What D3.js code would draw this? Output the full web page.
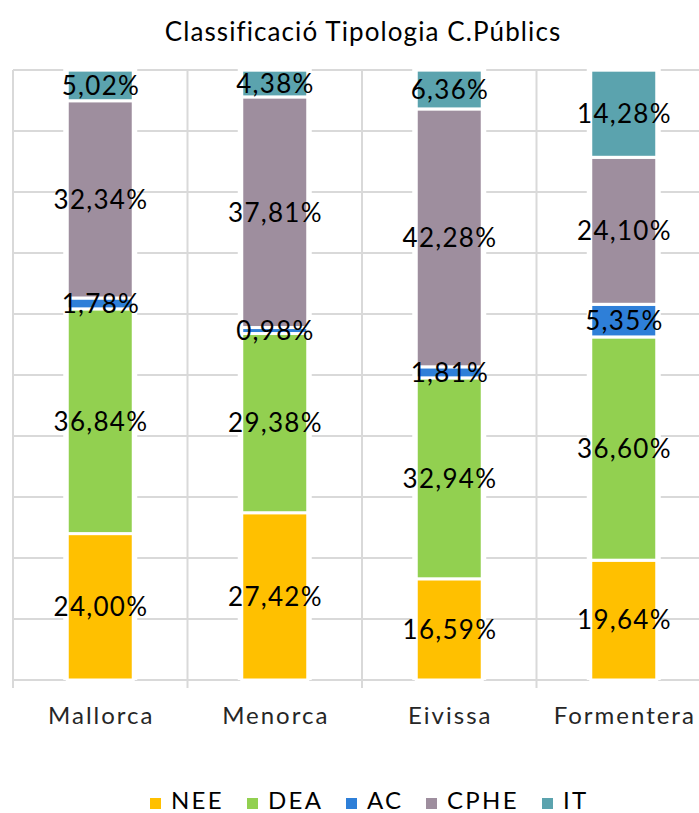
<!DOCTYPE html>
<html><head><meta charset="utf-8">
<script src="https://cdn.jsdelivr.net/npm/d3@7"></script>
<style>
html,body{margin:0;padding:0;background:#fff;}
text{font-family:"Lato","Open Sans",sans-serif;}
</style></head>
<body><div id="chart"></div>
<script>
const categories = ["Mallorca","Menorca","Eivissa","Formentera"];
const seriesNames = ["NEE","DEA","AC","CPHE","IT"];
const NEE  = [24.00, 27.42, 16.59, 19.64];
const DEA  = [36.84, 29.38, 32.94, 36.60];
const AC   = [1.78, 0.98, 1.81, 5.35];
const CPHE = [32.34, 37.81, 42.28, 24.10];
const IT   = [5.02, 4.38, 6.36, 14.28];
const labelsNEE  = ["24,00%","27,42%","16,59%","19,64%"];
const labelsDEA  = ["36,84%","29,38%","32,94%","36,60%"];
const labelsAC   = ["1,78%","0,98%","1,81%","5,35%"];
const labelsCPHE = ["32,34%","37,81%","42,28%","24,10%"];
const labelsIT   = ["5,02%","4,38%","6,36%","14,28%"];
const yTicks = [0,10,20,30,40,50,60,70,80,90,100];
const colors = ["#FFC000","#92D050","#2E7FD8","#9E8E9E","#5BA3AE"];

const W = 699, H = 813;
const svg = d3.select("#chart").append("svg").attr("width",W).attr("height",H);
const x = d3.scaleBand().domain(categories).range([13, 711]).padding(0);
const y = d3.scaleLinear().domain([0,100]).range([680, 70]);
const barW = 66;

const seriesVals = [NEE, DEA, AC, CPHE, IT];
const seriesLabels = [labelsNEE, labelsDEA, labelsAC, labelsCPHE, labelsIT];
const table = categories.map((c,i)=>{
  const o = {cat:c};
  seriesNames.forEach((s,k)=>{ o[s] = seriesVals[k][i]; });
  return o;
});
const stacked = d3.stack().keys(seriesNames)(table);

// gridlines
svg.append("g").selectAll("line").data(yTicks).join("line")
  .attr("x1",13).attr("x2",W).attr("y1",d=>y(d)).attr("y2",d=>y(d))
  .attr("stroke","#d9d9d9").attr("stroke-width",2);
// vertical boundaries
const bounds = categories.map(c=>x(c));
svg.append("g").selectAll("line").data(bounds).join("line")
  .attr("x1",d=>d).attr("x2",d=>d).attr("y1",70).attr("y2",688)
  .attr("stroke","#d9d9d9").attr("stroke-width",2);

// white backing for bars
svg.append("g").selectAll("rect").data(categories).join("rect")
  .attr("x",c=>x(c)+x.bandwidth()/2-barW/2-4)
  .attr("width",barW+8)
  .attr("y",y(100)-3).attr("height",y(0)-y(100)+3)
  .attr("fill","#fff");

const gBars = svg.append("g");
stacked.forEach((layer,k)=>{
  gBars.append("g").selectAll("rect").data(layer).join("rect")
    .attr("x",d=>x(d.data.cat)+x.bandwidth()/2-barW/2)
    .attr("width",barW)
    .attr("y",d=>y(d[1]))
    .attr("height",d=>Math.max(0,y(d[0])-y(d[1])))
    .attr("fill",colors[k])
    .attr("stroke","#fff").attr("stroke-width",3);
});
// labels
stacked.forEach((layer,k)=>{
  svg.append("g").selectAll("text").data(layer).join("text")
    .attr("x",d=>x(d.data.cat)+x.bandwidth()/2+0.7)
    .attr("y",d=>(y(d[0])+y(d[1]))/2)
    .attr("dy","0.36em")
    .attr("text-anchor","middle")
    .attr("font-size",26)
    .attr("letter-spacing","1.3px")
    .attr("fill","#000")
    .text((d,i)=>seriesLabels[k][i]);
});

// x axis labels
svg.append("g").selectAll("text").data(categories).join("text")
  .attr("x",c=>x(c)+x.bandwidth()/2+1)
  .attr("y",724)
  .attr("text-anchor","middle")
  .attr("font-size",24)
  .attr("letter-spacing","2px")
  .attr("fill","#262626")
  .text(c=>c);

// title
svg.append("text").attr("x",363).attr("y",41).attr("text-anchor","middle")
  .attr("font-size",26).attr("letter-spacing","1.1px").attr("fill","#000")
  .text("Classificació Tipologia C.Públics");

// legend
const legendX = [150, 247, 346, 426, 542];
const lg = svg.append("g");
seriesNames.forEach((s,k)=>{
  lg.append("rect").attr("x",legendX[k]).attr("y",798).attr("width",11).attr("height",11).attr("fill",colors[k]);
  lg.append("text").attr("x",legendX[k]+21).attr("y",809).attr("font-size",24)
    .attr("letter-spacing","2.3px").attr("fill","#000").text(s);
});
</script></body></html>
